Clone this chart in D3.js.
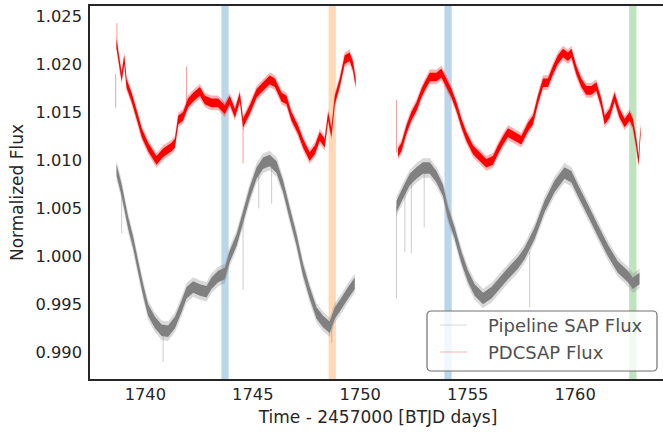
<!DOCTYPE html>
<html>
<head>
  <style>
    body { margin: 0; background: #fff; }
    svg text { font-family: "DejaVu Sans", sans-serif; }
  </style>
</head>
<body>
  <svg id="chart" width="663" height="432"></svg>
  <script src="https://d3js.org/d3.v7.min.js"></script>
  <script>
    // PDCSAP flux (red)
    const pdcTime = [1738.68, 1738.84, 1738.92, 1739.04, 1739.15, 1739.38, 1739.69, 1739.85, 1740.15, 1740.54,
      1740.85, 1741.24, 1741.40, 1741.55, 1741.78, 1742.01, 1742.25, 1742.56, 1742.79, 1743.10,
      1743.41, 1743.72, 1743.95, 1744.19, 1744.42, 1744.57, 1744.88, 1745.20, 1745.50, 1745.81,
      1746.05, 1746.36, 1746.59, 1746.82, 1747.13, 1747.36, 1747.67, 1747.91, 1748.14, 1748.37,
      1748.53, 1748.68, 1748.84, 1749.07, 1749.30, 1749.53, 1749.69, 1749.81,
      1751.78, 1751.94, 1752.17, 1752.40, 1752.64, 1752.87, 1753.02, 1753.26, 1753.57, 1753.80,
      1754.03, 1754.27, 1754.50, 1754.73, 1754.96, 1755.27, 1755.58, 1755.89, 1756.20, 1756.43,
      1756.67, 1756.90, 1757.21, 1757.52, 1757.83, 1758.06, 1758.29, 1758.53, 1758.76, 1758.99,
      1759.22, 1759.46, 1759.69, 1759.85, 1760.08, 1760.31, 1760.54, 1760.78, 1761.01, 1761.24,
      1761.40, 1761.63, 1761.86, 1762.09, 1762.33, 1762.56, 1762.71, 1762.87, 1762.98, 1763.07];
    const pdcFlux = [1.0222, 1.0198, 1.0187, 1.0205, 1.0180, 1.0166, 1.0142, 1.0129, 1.0114, 1.0100,
      1.0108, 1.0114, 1.0118, 1.0142, 1.0146, 1.0160, 1.0166, 1.0172, 1.0163, 1.0160,
      1.0160, 1.0153, 1.0163, 1.0149, 1.0166, 1.0139, 1.0153, 1.0170, 1.0177, 1.0184,
      1.0181, 1.0166, 1.0163, 1.0146, 1.0132, 1.0118, 1.0104, 1.0111, 1.0125, 1.0118,
      1.0146, 1.0129, 1.0163, 1.0181, 1.0205, 1.0208, 1.0198, 1.0181,
      1.0108, 1.0114, 1.0132, 1.0146, 1.0156, 1.0170, 1.0177, 1.0187, 1.0187, 1.0191,
      1.0181, 1.0170, 1.0156, 1.0139, 1.0125, 1.0111, 1.0104, 1.0097, 1.0100, 1.0111,
      1.0121, 1.0129, 1.0125, 1.0121, 1.0135, 1.0142, 1.0163, 1.0181, 1.0181, 1.0194,
      1.0205, 1.0212, 1.0208, 1.0212, 1.0194, 1.0181, 1.0173, 1.0173, 1.0177, 1.0160,
      1.0142, 1.0149, 1.0166, 1.0149, 1.0139, 1.0146, 1.0139, 1.0118, 1.0100, 1.0132];

    // Pipeline SAP flux (gray)
    const sapTime = [1738.68, 1738.92, 1739.07, 1739.22, 1739.46, 1739.69, 1739.92, 1740.15, 1740.47, 1740.78,
      1741.08, 1741.40, 1741.71, 1741.94, 1742.25, 1742.56, 1742.87, 1743.10, 1743.41, 1743.72,
      1743.95, 1744.27, 1744.57, 1744.88, 1745.20, 1745.50, 1745.81, 1746.13, 1746.43, 1746.74,
      1747.06, 1747.36, 1747.67, 1747.99, 1748.29, 1748.60, 1748.84, 1749.15, 1749.46, 1749.77,
      1751.71, 1752.01, 1752.33, 1752.64, 1752.94, 1753.26, 1753.57, 1753.87, 1754.11, 1754.42,
      1754.73, 1755.04, 1755.35, 1755.74, 1756.13, 1756.51, 1756.90, 1757.36, 1757.67, 1758.14,
      1758.60, 1759.07, 1759.53, 1759.85, 1760.15, 1760.62, 1761.08, 1761.55, 1762.01, 1762.48,
      1762.71, 1763.02];
    const sapFlux = [1.0090, 1.0069, 1.0052, 1.0035, 1.0014, 0.9989, 0.9965, 0.9944, 0.9931, 0.9923,
      0.9922, 0.9931, 0.9948, 0.9962, 0.9968, 0.9965, 0.9963, 0.9972, 0.9979, 0.9982,
      1.0000, 1.0017, 1.0041, 1.0066, 1.0087, 1.0097, 1.0100, 1.0093, 1.0073, 1.0045,
      1.0017, 0.9986, 0.9962, 0.9941, 0.9932, 0.9926, 0.9941, 0.9951, 0.9962, 0.9972,
      1.0052, 1.0066, 1.0080, 1.0087, 1.0092, 1.0092, 1.0083, 1.0069, 1.0045, 1.0024,
      0.9999, 0.9979, 0.9965, 0.9956, 0.9962, 0.9972, 0.9982, 0.9993, 1.0003, 1.0024,
      1.0052, 1.0073, 1.0087, 1.0083, 1.0069, 1.0048, 1.0027, 1.0006, 0.9989, 0.9979,
      0.9972, 0.9977];

    // point-to-point scatter of each light curve
    const pdcScatter = 0.00045;
    const sapScatter = 0.0006;

    // single outlying cadences: [time, low, high]
    const pdcSpikes = [[1738.64, 1.0155, 1.0190], [1738.70, 1.0215, 1.0243], [1741.94, 1.0160, 1.0198],
      [1744.57, 1.0097, 1.0139], [1751.71, 1.0108, 1.0163]];
    const sapSpikes = [[1738.92, 1.0024, 1.0069], [1740.85, 0.9890, 0.9925], [1744.57, 0.9965, 1.0041],
      [1745.30, 1.0050, 1.0087], [1745.90, 1.0055, 1.0095], [1748.70, 0.9910, 0.9928],
      [1751.71, 0.9956, 1.0052], [1752.10, 1.0004, 1.0070], [1752.40, 1.0003, 1.0078],
      [1753.00, 1.0030, 1.0090], [1757.91, 0.9947, 1.0005]];

    // highlighted time windows
    const bandTimes = [1743.73, 1748.72, 1754.11, 1762.71];
    const bandWidth = 0.34;
    const bandColors = ["#1f77b4", "#ff7f0e", "#1f77b4", "#2ca02c"];

    const xTicks = [1740, 1745, 1750, 1755, 1760];
    const yTicks = [0.990, 0.995, 1.000, 1.005, 1.010, 1.015, 1.020, 1.025];
    const legendLabels = ["Pipeline SAP Flux", "PDCSAP Flux"];

    const margin = {top: 5, left: 89, bottom: 380, right: 667};
    const svg = d3.select("#chart");

    const x = d3.scaleLinear().domain([1737.40, 1764.30]).range([margin.left, margin.right]);
    const y = d3.scaleLinear().domain([0.98711, 1.02620]).range([margin.bottom, margin.top]);

    // bands behind the data
    svg.selectAll("rect.band")
      .data(bandTimes)
      .enter().append("rect")
      .attr("class", "band")
      .attr("x", d => x(d - bandWidth / 2))
      .attr("width", d => x(d + bandWidth / 2) - x(d - bandWidth / 2))
      .attr("y", margin.top)
      .attr("height", margin.bottom - margin.top)
      .attr("fill", (d, i) => bandColors[i])
      .attr("fill-opacity", 0.3);

    // split a series where there is a data gap
    function segments(times, flux) {
      const out = [];
      let cur = [];
      times.forEach((t, i) => {
        if (cur.length && t - cur[cur.length - 1].t > 1) { out.push(cur); cur = []; }
        cur.push({t: t, v: flux[i]});
      });
      out.push(cur);
      return out;
    }

    function drawCurve(times, flux, scatter, spikes, color) {
      const g = svg.append("g");
      const segs = segments(times, flux);
      [[1.7, 0.3], [1, 1]].forEach(([k, op]) => {
        const area = d3.area()
          .x(d => x(d.t))
          .y0(d => y(d.v - scatter * k))
          .y1(d => y(d.v + scatter * k));
        g.selectAll(null).data(segs).enter().append("path")
          .attr("d", area)
          .attr("fill", color)
          .attr("fill-opacity", op);
      });
      g.selectAll("line").data(spikes).enter().append("line")
        .attr("x1", d => x(d[0])).attr("x2", d => x(d[0]))
        .attr("y1", d => y(d[1])).attr("y2", d => y(d[2]))
        .attr("stroke", color).attr("stroke-opacity", 0.4).attr("stroke-width", 1);
    }

    drawCurve(sapTime, sapFlux, sapScatter, sapSpikes, "#808080");
    drawCurve(pdcTime, pdcFlux, pdcScatter, pdcSpikes, "#ff0000");

    // axes
    const xAxis = svg.append("g")
      .attr("transform", `translate(0,${margin.bottom})`)
      .call(d3.axisBottom(x).tickValues(xTicks).tickFormat(d3.format("d")).tickSize(0).tickPadding(8));
    const yAxis = svg.append("g")
      .attr("transform", `translate(${margin.left},0)`)
      .call(d3.axisLeft(y).tickValues(yTicks).tickFormat(d3.format(".3f")).tickSize(0).tickPadding(7));
    [xAxis, yAxis].forEach(a => {
      a.select(".domain").remove();
      a.selectAll("text").attr("fill", "#262626").style("font-size", "16.3px");
    });

    // spines
    svg.append("rect")
      .attr("x", margin.left).attr("y", margin.top)
      .attr("width", margin.right - margin.left).attr("height", margin.bottom - margin.top)
      .attr("fill", "none").attr("stroke", "#262626").attr("stroke-width", 2);

    svg.append("text")
      .attr("x", (margin.left + margin.right) / 2).attr("y", 423)
      .attr("text-anchor", "middle").attr("fill", "#262626").style("font-size", "17px")
      .text("Time - 2457000 [BTJD days]");

    svg.append("text")
      .attr("transform", `translate(23,${(margin.top + margin.bottom) / 2}) rotate(-90)`)
      .attr("text-anchor", "middle").attr("fill", "#262626").style("font-size", "17px")
      .text("Normalized Flux");

    // legend
    const legend = svg.append("g").attr("transform", "translate(427,311)");
    legend.append("rect")
      .attr("width", 230).attr("height", 60).attr("rx", 4)
      .attr("fill", "#fff").attr("fill-opacity", 0.8)
      .attr("stroke", "#707070").attr("stroke-width", 1.2);
    const legendColors = ["#808080", "#ff0000"];
    legendLabels.forEach((lab, i) => {
      legend.append("line")
        .attr("x1", 13).attr("x2", 40).attr("y1", 14 + i * 27).attr("y2", 14 + i * 27)
        .attr("stroke", legendColors[i]).attr("stroke-opacity", 0.3).attr("stroke-width", 1);
      legend.append("text")
        .attr("x", 61).attr("y", 21 + i * 27)
        .attr("fill", "#505050").style("font-size", "18px")
        .text(lab);
    });
  </script>
</body>
</html>
